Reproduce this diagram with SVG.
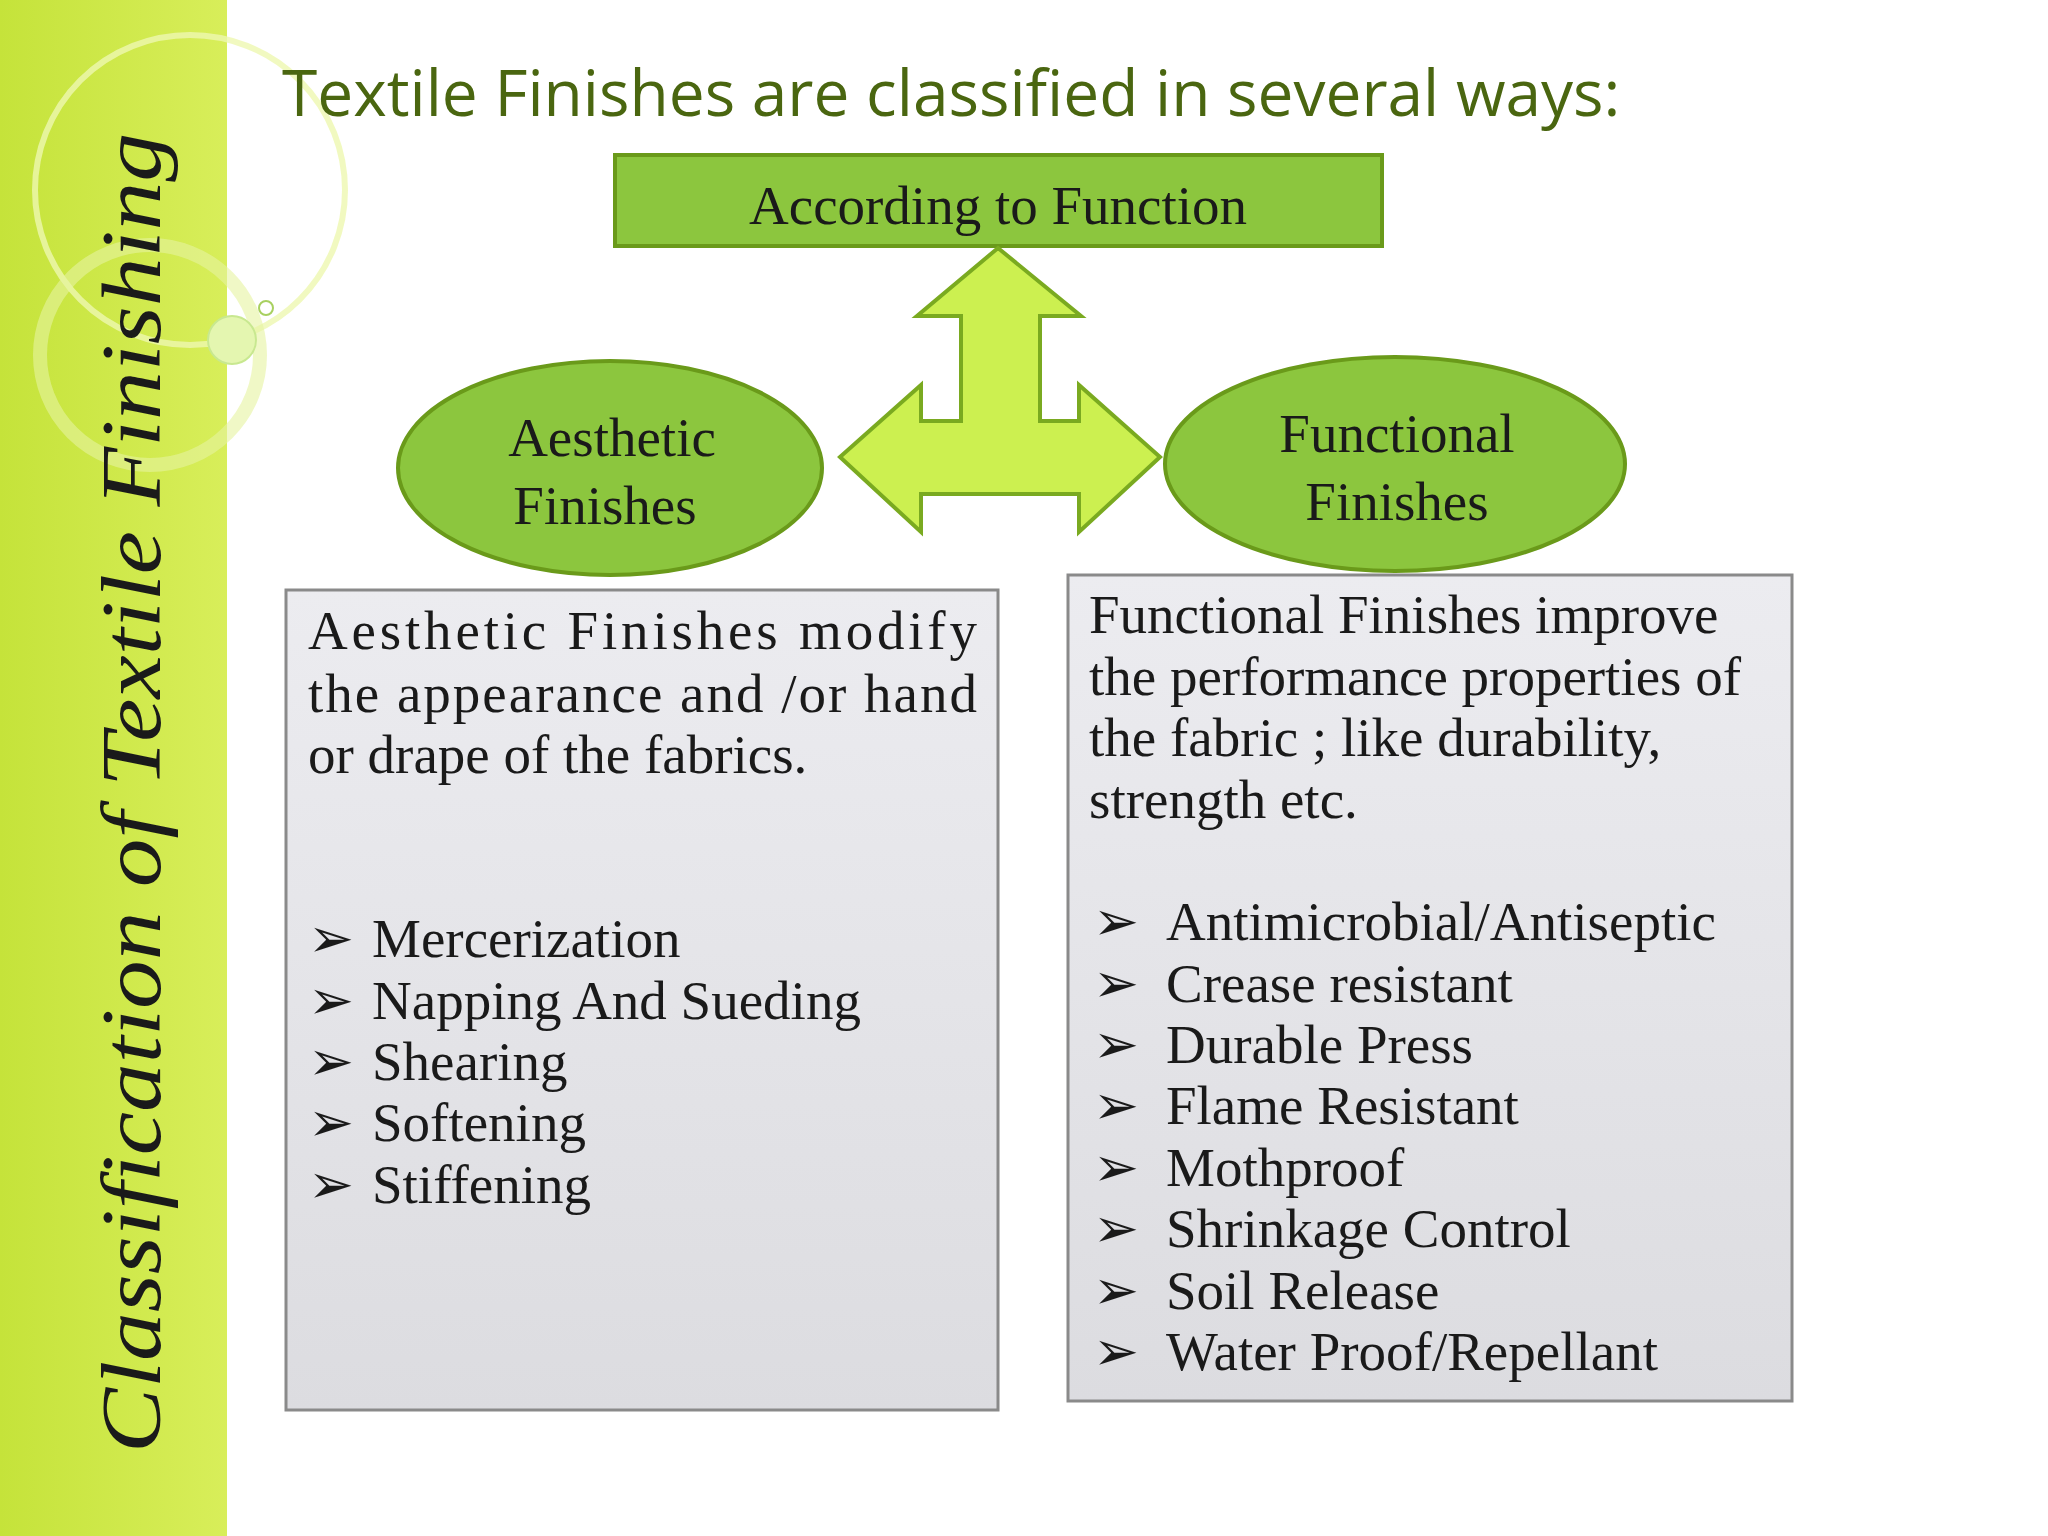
<svg xmlns="http://www.w3.org/2000/svg" width="2048" height="1536" viewBox="0 0 2048 1536">
<defs>
<linearGradient id="band" x1="0" y1="0" x2="1" y2="0"><stop offset="0" stop-color="#c5e33a"/><stop offset="1" stop-color="#d8ee5a"/></linearGradient>
<linearGradient id="box" x1="0" y1="0" x2="0" y2="1"><stop offset="0" stop-color="#ececf0"/><stop offset="1" stop-color="#dcdce0"/></linearGradient>
<style>
.g{fill:#8cc63e;stroke:#6a9a1a;stroke-width:4}
.bx{fill:url(#box);stroke:#8a8a8a;stroke-width:3}
.t{font-family:"Liberation Serif",serif;font-size:55px;fill:#1a1a1a}
.c{text-anchor:middle}
</style>
</defs>
<rect width="2048" height="1536" fill="#fff"/>
<g id="band-deco">
<rect x="0" y="0" width="227" height="1536" fill="url(#band)"/>
<circle cx="190" cy="190" r="155" fill="none" stroke="#eef8b0" stroke-width="6" opacity="0.8"/>
<circle cx="150" cy="355" r="110" fill="none" stroke="#e6f4a0" stroke-width="14" opacity="0.6"/>
<circle cx="232" cy="340" r="24" fill="#e4f6b0" stroke="#c8e890" stroke-width="2"/>
<circle cx="266" cy="308" r="7" fill="none" stroke="#a8d060" stroke-width="2"/>
<text transform="translate(160,793) rotate(-90)" text-anchor="middle" font-family="URW Chancery L, Z003, cursive" font-style="italic" font-size="84" fill="#1a1a1a" textLength="1320" lengthAdjust="spacingAndGlyphs">Classification of Textile Finishing</text>
</g>
<text x="282" y="116" font-family="'Open Sans','Liberation Sans',sans-serif" font-size="64" fill="#4a6610">Textile Finishes are classified in several ways:</text>
<g id="top"><rect class="g" x="615" y="155" width="767" height="91"/><text class="t c" x="998" y="224">According to Function</text></g>
<g id="connectors"><polygon points="998,248 1081,316 1040,316 1040,421 1079,421 1079,385 1160,457 1079,532 1079,494 921,494 921,532 840,457 921,385 921,421 961,421 961,316 917,316" fill="#ccf050" stroke="#7aaa20" stroke-width="4"/></g>
<g id="aesthetic"><ellipse class="g" cx="610" cy="468" rx="212" ry="107"/><text class="t c" x="612" y="456">Aesthetic</text><text class="t c" x="605" y="524">Finishes</text></g>
<g id="functional"><ellipse class="g" cx="1395" cy="464" rx="230" ry="107"/><text class="t c" x="1397" y="452">Functional</text><text class="t c" x="1397" y="520">Finishes</text></g>
<g id="left-box"><rect class="bx" x="286" y="590" width="712" height="820"/>
<text class="t" x="308" y="649" textLength="669" lengthAdjust="spacing">Aesthetic  Finishes  modify</text>
<text class="t" x="308" y="712" textLength="669" lengthAdjust="spacing">the appearance and /or hand</text>
<text class="t" x="308" y="773">or drape of the fabrics.</text>
<g class="t"><text x="308" y="957">➢</text><text x="372" y="957">Mercerization</text>
<text x="308" y="1019">➢</text><text x="372" y="1019">Napping And Sueding</text>
<text x="308" y="1080">➢</text><text x="372" y="1080">Shearing</text>
<text x="308" y="1141">➢</text><text x="372" y="1141">Softening</text>
<text x="308" y="1203">➢</text><text x="372" y="1203">Stiffening</text></g></g>
<g id="right-box"><rect class="bx" x="1068" y="575" width="724" height="826"/>
<g class="t"><text x="1089" y="633">Functional Finishes improve</text>
<text x="1089" y="695">the performance properties of</text>
<text x="1089" y="756">the fabric ; like durability,</text>
<text x="1089" y="818">strength etc.</text>
<text x="1093" y="940">➢</text><text x="1166" y="940">Antimicrobial/Antiseptic</text>
<text x="1093" y="1002">➢</text><text x="1166" y="1002">Crease resistant</text>
<text x="1093" y="1063">➢</text><text x="1166" y="1063">Durable Press</text>
<text x="1093" y="1124">➢</text><text x="1166" y="1124">Flame Resistant</text>
<text x="1093" y="1186">➢</text><text x="1166" y="1186">Mothproof</text>
<text x="1093" y="1247">➢</text><text x="1166" y="1247">Shrinkage Control</text>
<text x="1093" y="1309">➢</text><text x="1166" y="1309">Soil Release</text>
<text x="1093" y="1370">➢</text><text x="1166" y="1370">Water Proof/Repellant</text></g></g>
</svg>
